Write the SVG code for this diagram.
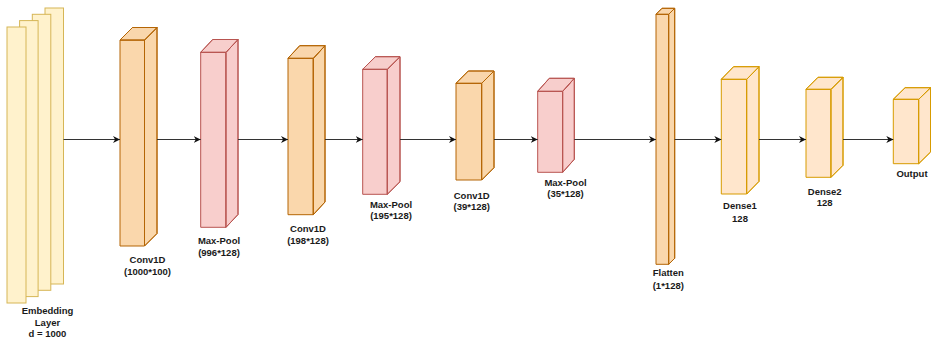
<svg xmlns="http://www.w3.org/2000/svg" width="931" height="339" viewBox="0 0 931 339">
  <style>
    .emb { fill: #fff2cc; stroke: #d6b656; stroke-width: 1; }
    .conv path { fill: #fad7ac; stroke: #b46504; stroke-width: 1; stroke-linejoin: round; }
    .pool path { fill: #f8cecc; stroke: #b85450; stroke-width: 1; stroke-linejoin: round; }
    .dense path { fill: #ffe6cc; stroke: #d79b00; stroke-width: 1; stroke-linejoin: round; }
    .side { fill-opacity: 1; }
    .shade-side { fill: #000; fill-opacity: 0.06; stroke: none; }
    .shade-top { fill: #000; fill-opacity: 0.12; stroke: none; }
    text { font-family: "Liberation Sans", Arial, sans-serif; font-size: 9.5px; font-weight: bold; fill: #1a1a1a; text-anchor: middle; }
    .link { stroke: #333; stroke-width: 1; fill: none; marker-end: url(#arrow); }
  </style>
  <defs>
    <marker id="arrow" viewBox="0 0 10 10" refX="10" refY="5" markerWidth="7" markerHeight="7" markerUnits="userSpaceOnUse" orient="auto">
      <path d="M0,0 L10,5 L0,10 L3,5 Z" fill="#111"/>
    </marker>
  </defs>

  <!-- Embedding layer: stacked sheets, back to front -->
  <g id="embedding">
    <rect class="emb" x="45" y="8" width="18.5" height="276"/>
    <rect class="emb" x="32.3" y="14.3" width="18.5" height="276"/>
    <rect class="emb" x="19.6" y="20.6" width="18.5" height="276"/>
    <rect class="emb" x="7" y="27" width="19" height="276"/>
    <text x="47.5" y="314">Embedding</text>
    <text x="47.5" y="325.5">Layer</text>
    <text x="47.5" y="337">d = 1000</text>
  </g>

  <!-- Conv1D (1000*100) -->
  <g id="conv1" class="conv">
    <path d="M120,40 H144.5 V246 H120 Z"/>
    <path d="M144.5,40 L157,27.5 V233.5 L144.5,246 Z"/>
    <path class="shade-side" d="M144.5,40 L157,27.5 V233.5 L144.5,246 Z"/>
    <path d="M120,40 L132.5,27.5 H157 L144.5,40 Z"/>
    <path class="shade-top" d="M120,40 L132.5,27.5 H157 L144.5,40 Z"/>
    <text x="147.5" y="262.5">Conv1D</text>
    <text x="147.5" y="274.5">(1000*100)</text>
  </g>

  <!-- Max-Pool (996*128) -->
  <g id="pool1" class="pool">
    <path d="M200.7,52.3 H226 V227.3 H200.7 Z"/>
    <path d="M226,52.3 L238,39.5 V214.5 L226,227.3 Z"/>
    <path class="shade-side" d="M226,52.3 L238,39.5 V214.5 L226,227.3 Z"/>
    <path d="M200.7,52.3 L212.7,39.5 H238 L226,52.3 Z"/>
    <path class="shade-top" d="M200.7,52.3 L212.7,39.5 H238 L226,52.3 Z"/>
    <text x="219" y="244">Max-Pool</text>
    <text x="219" y="255.5">(996*128)</text>
  </g>

  <!-- Conv1D (198*128) -->
  <g id="conv2" class="conv">
    <path d="M288,58.3 H313.3 V214.7 H288 Z"/>
    <path d="M313.3,58.3 L325,45.7 V202 L313.3,214.7 Z"/>
    <path class="shade-side" d="M313.3,58.3 L325,45.7 V202 L313.3,214.7 Z"/>
    <path d="M288,58.3 L299.7,45.7 H325 L313.3,58.3 Z"/>
    <path class="shade-top" d="M288,58.3 L299.7,45.7 H325 L313.3,58.3 Z"/>
    <text x="308" y="232">Conv1D</text>
    <text x="308" y="243.5">(198*128)</text>
  </g>

  <!-- Max-Pool (195*128) -->
  <g id="pool2" class="pool">
    <path d="M362.7,69.3 H387.3 V194.3 H362.7 Z"/>
    <path d="M387.3,69.3 L400,56.7 V181.7 L387.3,194.3 Z"/>
    <path class="shade-side" d="M387.3,69.3 L400,56.7 V181.7 L387.3,194.3 Z"/>
    <path d="M362.7,69.3 L375.4,56.7 H400 L387.3,69.3 Z"/>
    <path class="shade-top" d="M362.7,69.3 L375.4,56.7 H400 L387.3,69.3 Z"/>
    <text x="391" y="207.5">Max-Pool</text>
    <text x="391" y="218.5">(195*128)</text>
  </g>

  <!-- Conv1D (39*128) -->
  <g id="conv3" class="conv">
    <path d="M456,83.3 H481.7 V180 H456 Z"/>
    <path d="M481.7,83.3 L494,71 V167.7 L481.7,180 Z"/>
    <path class="shade-side" d="M481.7,83.3 L494,71 V167.7 L481.7,180 Z"/>
    <path d="M456,83.3 L468.3,71 H494 L481.7,83.3 Z"/>
    <path class="shade-top" d="M456,83.3 L468.3,71 H494 L481.7,83.3 Z"/>
    <text x="471.7" y="199">Conv1D</text>
    <text x="471.7" y="209.5">(39*128)</text>
  </g>

  <!-- Max-Pool (35*128) -->
  <g id="pool3" class="pool">
    <path d="M537.7,91.3 H562.7 V172.3 H537.7 Z"/>
    <path d="M562.7,91.3 L574.3,78.3 V159.3 L562.7,172.3 Z"/>
    <path class="shade-side" d="M562.7,91.3 L574.3,78.3 V159.3 L562.7,172.3 Z"/>
    <path d="M537.7,91.3 L549.3,78.3 H574.3 L562.7,91.3 Z"/>
    <path class="shade-top" d="M537.7,91.3 L549.3,78.3 H574.3 L562.7,91.3 Z"/>
    <text x="565.5" y="185.5">Max-Pool</text>
    <text x="565.5" y="196.5">(35*128)</text>
  </g>

  <!-- Flatten (1*128) -->
  <g id="flatten" class="conv">
    <path d="M656,14.3 H668.7 V264.3 H656 Z"/>
    <path d="M668.7,14.3 L674.7,8.3 V258.3 L668.7,264.3 Z"/>
    <path class="shade-side" d="M668.7,14.3 L674.7,8.3 V258.3 L668.7,264.3 Z"/>
    <path d="M656,14.3 L662,8.3 H674.7 L668.7,14.3 Z"/>
    <path class="shade-top" d="M656,14.3 L662,8.3 H674.7 L668.7,14.3 Z"/>
    <text x="668.3" y="276">Flatten</text>
    <text x="668.3" y="288.5">(1*128)</text>
  </g>

  <!-- Dense1 128 -->
  <g id="dense1" class="dense">
    <path d="M721.3,79.3 H746.7 V194 H721.3 Z"/>
    <path d="M746.7,79.3 L759,66.7 V181.4 L746.7,194 Z"/>
    <path class="shade-side" d="M746.7,79.3 L759,66.7 V181.4 L746.7,194 Z"/>
    <path d="M721.3,79.3 L733.6,66.7 H759 L746.7,79.3 Z"/>
    <path class="shade-top" d="M721.3,79.3 L733.6,66.7 H759 L746.7,79.3 Z"/>
    <text x="740" y="209">Dense1</text>
    <text x="740" y="221.5">128</text>
  </g>

  <!-- Dense2 128 -->
  <g id="dense2" class="dense">
    <path d="M806,89.3 H831 V177.3 H806 Z"/>
    <path d="M831,89.3 L843,77.3 V165.3 L831,177.3 Z"/>
    <path class="shade-side" d="M831,89.3 L843,77.3 V165.3 L831,177.3 Z"/>
    <path d="M806,89.3 L818,77.3 H843 L831,89.3 Z"/>
    <path class="shade-top" d="M806,89.3 L818,77.3 H843 L831,89.3 Z"/>
    <text x="824.7" y="194.5">Dense2</text>
    <text x="824.7" y="205.5">128</text>
  </g>

  <!-- Output -->
  <g id="output" class="dense">
    <path d="M893.3,99.3 H918.7 V163.7 H893.3 Z"/>
    <path d="M918.7,99.3 L930.5,87.7 V152.1 L918.7,163.7 Z"/>
    <path class="shade-side" d="M918.7,99.3 L930.5,87.7 V152.1 L918.7,163.7 Z"/>
    <path d="M893.3,99.3 L905.1,87.7 H930.5 L918.7,99.3 Z"/>
    <path class="shade-top" d="M893.3,99.3 L905.1,87.7 H930.5 L918.7,99.3 Z"/>
    <text x="912" y="177">Output</text>
  </g>

  <!-- Connectors -->
  <g id="connectors">
    <path class="link" d="M63.5,139.5 H120"/>
    <path class="link" d="M157,139.5 H200.7"/>
    <path class="link" d="M238,139.5 H288"/>
    <path class="link" d="M325,139.5 H362.7"/>
    <path class="link" d="M400,139.5 H456"/>
    <path class="link" d="M494,139.5 H537.7"/>
    <path class="link" d="M574.3,139.5 H656"/>
    <path class="link" d="M674.7,139.5 H721.3"/>
    <path class="link" d="M759,139.5 H806"/>
    <path class="link" d="M843,139.5 H893.3"/>
  </g>
</svg>
